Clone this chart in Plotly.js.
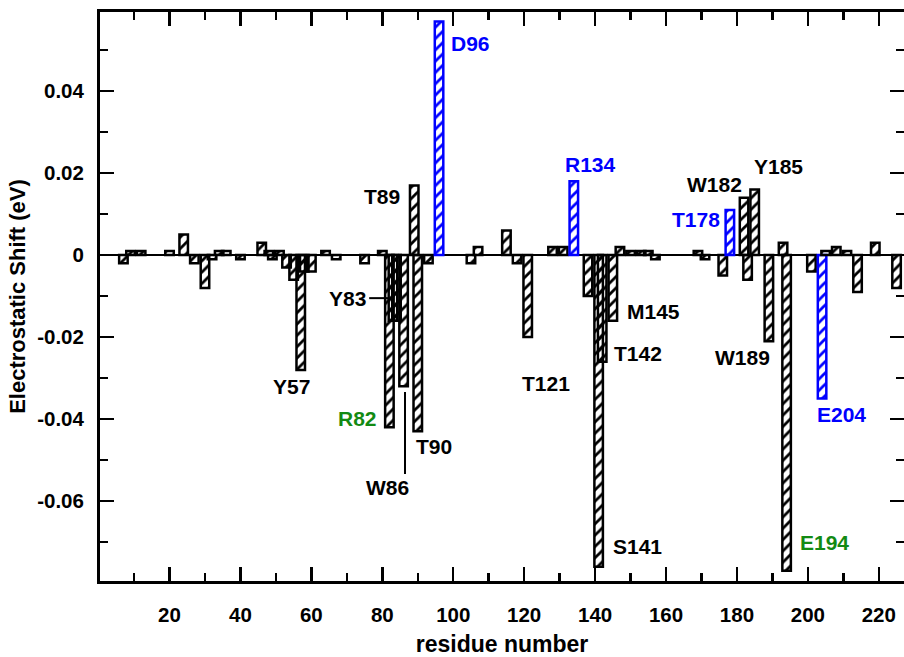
<!DOCTYPE html>
<html>
<head>
<meta charset="utf-8">
<script src="https://cdn.plot.ly/plotly-3.0.1.min.js"></script>
<style>html,body{margin:0;padding:0;background:#fff;}#chart{width:904px;height:657px;}</style>
</head>
<body>
<div id="chart"></div>
<script>
// ---- data ----
const residues = [7, 9, 12, 20, 24, 27, 30, 32, 34, 36, 40, 46, 48, 49, 51, 53, 55, 57, 58, 60,
  64, 67, 75, 80, 82, 83, 84, 86, 89, 90, 93, 96, 105, 107, 115, 118, 121, 128, 131, 134,
  138, 141, 142, 145, 147, 150, 153, 155, 157, 169, 171, 176, 178, 182, 183, 185, 189, 193, 194,
  201, 204, 205, 208, 211, 214, 219, 225];
const shifts = [-0.002, 0.001, 0.001, 0.001, 0.005, -0.002, -0.008, -0.001, 0.001, 0.001, -0.001, 0.003, 0.001, -0.001, 0.001, -0.003, -0.006, -0.028, -0.004, -0.004,
  0.001, -0.001, -0.002, 0.001, -0.042, -0.016, -0.016, -0.032, 0.017, -0.043, -0.002, 0.057, -0.002, 0.002, 0.006, -0.002, -0.020, 0.002, 0.002, 0.018,
  -0.010, -0.076, -0.026, -0.016, 0.002, 0.001, 0.001, 0.001, -0.001, 0.001, -0.001, -0.005, 0.011, 0.014, -0.006, 0.016, -0.021, 0.003, -0.077,
  -0.004, -0.035, 0.001, 0.002, 0.001, -0.009, 0.003, -0.008];
const blueResidues = [96, 134, 178, 204];

const xTickVals = [20, 40, 60, 80, 100, 120, 140, 160, 180, 200, 220];
const xTickText = ["20", "40", "60", "80", "100", "120", "140", "160", "180", "200", "220"];
const xMinorVals = [10, 30, 50, 70, 90, 110, 130, 150, 170, 190, 210];
const yTickVals = [-0.08, -0.06, -0.04, -0.02, 0, 0.02, 0.04];
const yTickText = ["-0.08", "-0.06", "-0.04", "-0.02", "0", "0.02", "0.04"];
const yMinorVals = [-0.07, -0.05, -0.03, -0.01, 0.01, 0.03, 0.05];

const labelNames  = ["D96", "R134", "T89", "W182", "Y185", "T178", "Y83", "Y57", "R82", "T90", "W86", "T121", "T142", "M145", "S141", "W189", "E204", "E194"];
const labelColors = ["blue", "blue", "black", "black", "black", "blue", "black", "black", "green", "black", "black", "black", "black", "black", "black", "black", "blue", "green"];

// ---- styles / positions ----
const BLUE = "#0000ff", GREEN = "#138a13", BLACK = "#000000";
const colorMap = {blue: BLUE, green: GREEN, black: BLACK};
const labelPos = [
  [104.8, 0.0515], [138.6, 0.0222], [79.9, 0.0144], [173.6, 0.0173], [191.6, 0.0217], [168.5, 0.0088],
  [70.3, -0.0105], [54.5, -0.032], [73.1, -0.0398], [94.6, -0.0468], [81.6, -0.0568], [126.2, -0.0312],
  [152.1, -0.0241], [156.6, -0.0137], [151.9, -0.0712], [181.5, -0.0249], [209.4, -0.0388], [204.6, -0.070]
];

const barColors = residues.map(r => blueResidues.includes(r) ? BLUE : BLACK);

const FONT = "Liberation Sans, Arial, Helvetica, sans-serif";

const trace = {
  type: "bar",
  x: residues,
  y: shifts,
  width: 2.4,
  marker: {
    color: barColors,
    line: {color: barColors, width: 2.5},
    pattern: {shape: "/", fgcolor: "#ffffff", bgcolor: barColors, size: 8, solidity: 0.35, fillmode: "replace"}
  },
  hoverinfo: "x+y"
};

const annotations = labelNames.map((t, i) => ({
  x: labelPos[i][0], y: labelPos[i][1], xref: "x", yref: "y",
  text: t, showarrow: false, xanchor: "center", yanchor: "middle",
  font: {family: FONT, size: 21, weight: 700, color: colorMap[labelColors[i]]}
}));

const shapes = [
  {type: "line", xref: "x", yref: "y", x0: 76.3, x1: 81.6, y0: -0.0105, y1: -0.0105, line: {color: BLACK, width: 2}},
  {type: "line", xref: "x", yref: "y", x0: 86.4, x1: 86.4, y0: -0.0334, y1: -0.0534, line: {color: BLACK, width: 2}}
];

const layout = {
  width: 904, height: 657,
  margin: {l: 100, r: 0, t: 12, b: 76},
  paper_bgcolor: "#ffffff", plot_bgcolor: "#ffffff",
  showlegend: false,
  bargap: 0,
  font: {family: FONT, size: 20, color: BLACK, weight: 700},
  xaxis: {
    range: [0.4, 227.1],
    tickmode: "array", tickvals: xTickVals, ticktext: xTickText,
    ticks: "inside", ticklen: 14, tickwidth: 2.5, tickcolor: BLACK,
    minor: {tickmode: "array", tickvals: xMinorVals, ticks: "inside", ticklen: 8, tickwidth: 2.5, tickcolor: BLACK},
    showline: true, linewidth: 3, linecolor: BLACK, mirror: "ticks",
    showgrid: false, zeroline: false,
    ticklabelstandoff: 13,
    tickfont: {family: FONT, size: 20.5, weight: 700, color: BLACK},
    title: {text: "residue number", font: {family: FONT, size: 23, weight: 700, color: BLACK}, standoff: 19}
  },
  yaxis: {
    range: [-0.0795, 0.0593],
    tickmode: "array", tickvals: yTickVals, ticktext: yTickText,
    ticks: "inside", ticklen: 14, tickwidth: 2.5, tickcolor: BLACK,
    minor: {tickmode: "array", tickvals: yMinorVals, ticks: "inside", ticklen: 8, tickwidth: 2.5, tickcolor: BLACK},
    showline: true, linewidth: 3, linecolor: BLACK, mirror: "ticks",
    showgrid: false,
    zeroline: true, zerolinecolor: BLACK, zerolinewidth: 2.5,
    ticklabelstandoff: 9,
    tickfont: {family: FONT, size: 20.5, weight: 700, color: BLACK},
    title: {text: "Electrostatic Shift (eV)", font: {family: FONT, size: 22, weight: 700, color: BLACK}, standoff: 6}
  },
  annotations: annotations,
  shapes: shapes
};

Plotly.newPlot("chart", [trace], layout, {displayModeBar: false, staticPlot: true});
</script>
</body>
</html>
